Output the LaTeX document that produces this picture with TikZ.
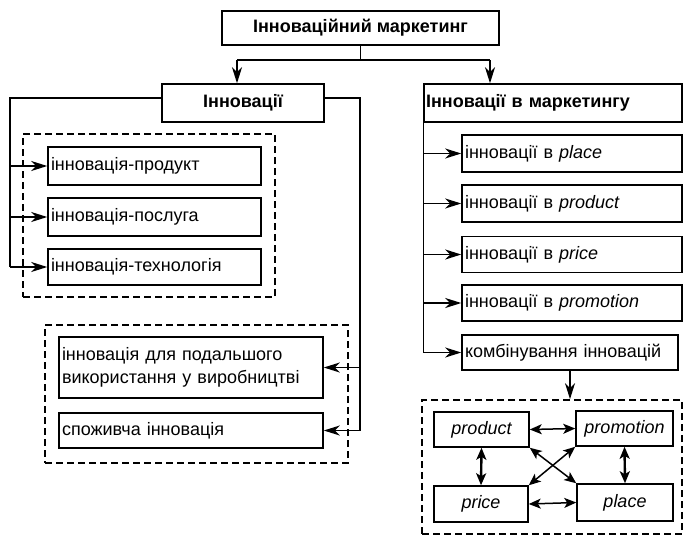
\documentclass[tikz,border=0pt]{standalone}
\usepackage{fontspec}
\setmainfont{Liberation Sans}
\usetikzlibrary{arrows.meta}
\tikzset{
  tipA/.tip={Stealth[length=16pt,width=10pt,inset=5pt]},
  tipB/.tip={Stealth[length=12pt,width=10pt,inset=3pt]}
}
\begin{document}
\begin{tikzpicture}[x=1pt,y=-1pt,
  every node/.style={font=\fontsize{18}{23}\selectfont},
  bx/.style={draw, line width=1.5pt, inner sep=3pt},
  lbx/.style={bx, align=left, text width=#1},
  cbx/.style={bx, align=center},
  dbox/.style={draw, line width=1.7pt, dash pattern=on 7pt off 4pt},
  ln/.style={line width=1.4pt},
  arr/.style={ln, -tipA},
  darr/.style={line width=1.5pt, tipB-tipB}
]
\useasboundingbox (0,0) rectangle (684,536);

% dashed groups
\node[dbox, minimum width=252pt, minimum height=163pt] (g1) at (149,215.5) {};
\node[dbox, minimum width=303pt, minimum height=138pt] (g2) at (196.5,394) {};
\node[dbox, minimum width=260pt, minimum height=134pt] (g3) at (552,467) {};

% top
\node[cbx, minimum width=277pt, minimum height=34pt] (top) at (360.5,28) {\bfseries Інноваційний маркетинг};
\node[cbx, minimum width=162pt, minimum height=38pt] (inn) at (243,103) {\bfseries Інновації};
\node[bx, inner sep=2pt, align=left, text width=254pt, minimum height=38pt] (mark) at (553,103) {\bfseries Інновації в маркетингу};

% left boxes
\node[lbx=207pt, minimum height=38pt] (p1) at (154.5,166) {інновація-продукт};
\node[lbx=207pt, minimum height=38pt] (p2) at (154.5,217) {інновація-послуга};
\node[lbx=207pt, minimum height=36pt] (p3) at (154.5,267) {інновація-технологія};
\node[lbx=258pt, minimum height=61pt] (A) at (191,367.5) {інновація для подальшого\\використання у виробництві};
\node[lbx=258pt, minimum height=35pt] (B) at (191,430.5) {споживча інновація};

% right boxes
\node[lbx=214pt, minimum height=37pt] (r1) at (572,153.5) {інновації в \textit{place}};
\node[lbx=214pt, minimum height=37pt] (r2) at (572,203.5) {інновації в \textit{product}};
\node[lbx=214pt, minimum height=36pt] (r3) at (572,254.5) {інновації в \textit{price}};
\node[lbx=214pt, minimum height=36pt] (r4) at (572,303) {інновації в \textit{promotion}};
\node[lbx=210pt, minimum height=35pt] (r5) at (570,352.5) {комбінування інновацій};

% mix boxes
\node[cbx, minimum width=95pt, minimum height=35pt] (prod) at (481.5,429.5) {\itshape product};
\node[cbx, minimum width=97pt, minimum height=35pt] (prom) at (624.5,428.5) {\itshape promotion};
\node[cbx, minimum width=94pt, minimum height=36pt] (pric) at (481,504) {\itshape price};
\node[cbx, minimum width=96pt, minimum height=37pt] (plac) at (625,502.5) {\itshape place};

% top connectors
\coordinate (j) at (360.5,60);
\coordinate (jl) at (237,60);
\coordinate (jr) at (490,60);
\draw[ln] (top.south) -- (j);
\draw[ln] (jl) -- (jr);
\draw[arr] (jl) -- (jl |- inn.north);
\draw[arr] (jr) -- (jr |- mark.north);

% left bracket
\coordinate (lx) at (10,0);
\draw[ln] ([yshift=5pt]inn.west) -| (p3.west -| lx);
\draw[arr] (p1.west -| lx) -- (p1.west);
\draw[arr] (p2.west -| lx) -- (p2.west);
\draw[arr] (p3.west -| lx) -- (p3.west);

% right bracket of Інновації
\coordinate (rx) at (360,0);
\draw[ln] ([yshift=5pt]inn.east) -| (B.east -| rx);
\draw[arr] (A.east -| rx) -- (A.east);
\draw[arr] (B.east -| rx) -- (B.east);

% marketing bracket
\draw[ln] (mark.south west) -- (r5.west -| mark.south west);
\draw[arr] (r1.west -| mark.south west) -- (r1.west);
\draw[arr] (r2.west -| mark.south west) -- (r2.west);
\draw[arr] (r3.west -| mark.south west) -- (r3.west);
\draw[arr] (r4.west -| mark.south west) -- (r4.west);
\draw[arr] (r5.west -| mark.south west) -- (r5.west);

\draw[arr] (r5.south) -- (r5.south |- g3.north);

% mix arrows
\draw[darr] (prod.east) -- (prom.west);
\draw[darr] (pric.east) -- (plac.west);
\draw[darr, line width=2.4pt] (prod.south) -- (pric.north);
\draw[darr, line width=2.4pt] (prom.south) -- (plac.north);
\draw[darr] (prod.south east) -- (plac.north west);
\draw[darr] (prom.south west) -- (pric.north east);
\end{tikzpicture}
\end{document}
